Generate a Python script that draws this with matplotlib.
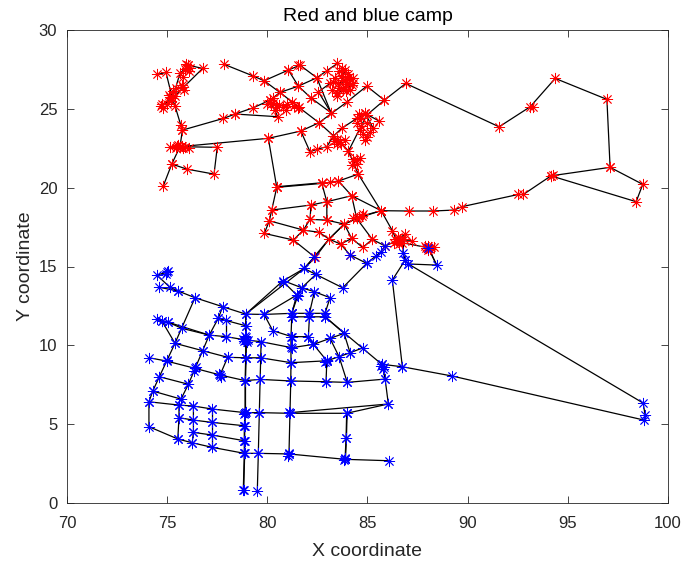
import matplotlib
matplotlib.use('Agg')
import matplotlib.pyplot as plt

plt.rcParams['font.family'] = ['Liberation Sans', 'DejaVu Sans']

# road sections of the red camp, (x, y)
red_north_west = [
    [(74.51, 27.18), (74.94, 27.31), (75.26, 25.66), (74.69, 25.17)],
    [(76.06, 27.77), (76.77, 27.56), (75.81, 26.36), (75.26, 25.66)],
    [(76.06, 27.77), (75.64, 27.25), (75.26, 25.66), (75.39, 25.19), (75.68, 23.97), (75.76, 23.65), (75.64, 22.6), (77.5, 22.56), (77.34, 20.86), (75.97, 21.18), (75.23, 21.5), (74.81, 20.12)],
    [(75.64, 22.6), (75.23, 21.5)],
    [(75.14, 22.56), (75.64, 22.6), (76.11, 22.53)],
    [(75.76, 23.65), (77.8, 24.39), (78.39, 24.67), (79.3, 25.07), (80.13, 25.55), (80.63, 26.04), (81.55, 26.44), (82.47, 26.97), (82.97, 27.42), (83.5, 27.88)],
    [(78.39, 24.67), (80.52, 24.5), (80.13, 25.55)],
    [(77.85, 27.82), (79.3, 27.08), (79.84, 26.78), (81.05, 27.46), (81.63, 27.77), (82.47, 26.97), (83.18, 24.75)],
    [(79.84, 26.78), (80.63, 26.04), (81.58, 25.09), (82.58, 24.12), (83.63, 22.91), (84.05, 22.32), (84.54, 20.86), (85.68, 18.52)],
    [(81.05, 27.46), (81.55, 26.44), (82.17, 25.7)],
    [(75.64, 22.6), (80.05, 23.13), (81.67, 23.59), (82.58, 24.12), (83.99, 25.45), (84.96, 26.44), (85.84, 25.55), (84.96, 24.6), (84.05, 22.32)],
    [(85.84, 25.55), (86.91, 26.61), (91.57, 23.86), (93.12, 25.13), (94.37, 26.93), (96.95, 25.6), (97.11, 21.29), (98.74, 20.21), (98.41, 19.11), (94.16, 20.75), (92.78, 19.57), (92.53, 19.57), (89.7, 18.79), (89.32, 18.58), (88.29, 18.52), (87.07, 18.52), (85.68, 18.54)],
    [(94.16, 20.75), (97.11, 21.29)],
    [(80.05, 23.13), (80.47, 20.02), (80.22, 18.58), (80.1, 17.9), (79.85, 17.1), (81.3, 16.68), (82.38, 15.58)],
    [(81.67, 23.59), (82.13, 22.28), (82.47, 22.43), (82.97, 22.6), (83.3, 23.27), (83.71, 23.76), (84.46, 24.39), (84.88, 24.71), (85.59, 24.22)],
    [(82.17, 25.7), (83.18, 24.75), (82.55, 26.08), (83.13, 26.61), (83.55, 26.61), (84.3, 26.93)],
    [(83.47, 25.98), (83.88, 27.46), (84.3, 26.61), (83.8, 26.19), (83.47, 25.98)],
    [(84.63, 23.65), (84.96, 23.23), (85.29, 23.76), (84.88, 24.71)],
    [(84.46, 21.75), (84.21, 21.43), (84.63, 21.9)],
]

red_south = [
    [(80.47, 20.02), (82.72, 20.27), (83.13, 20.34), (83.55, 20.42), (84.54, 20.86)],
    [(80.47, 20.06), (82.72, 20.31)],
    [(80.22, 18.58), (82.18, 18.9), (82.97, 19.11), (84.21, 19.49), (85.68, 18.54), (86.24, 17.27), (86.46, 16.63), (86.71, 16.51), (88.04, 16.19)],
    [(82.72, 20.27), (82.97, 19.11), (82.97, 17.94), (83.84, 17.69), (84.46, 18.05), (84.71, 18.2), (85.68, 18.54)],
    [(84.21, 19.49), (84.46, 18.05), (85.24, 16.72), (85.88, 16.3), (86.46, 16.63)],
    [(83.55, 20.42), (84.21, 19.49)],
    [(80.1, 17.9), (81.8, 17.31), (81.3, 16.68)],
    [(81.8, 17.31), (82.13, 17.99), (82.97, 17.94)],
    [(82.18, 18.9), (82.13, 17.99)],
    [(81.8, 17.31), (82.58, 17.17), (83.08, 16.74), (83.66, 16.42), (84.13, 15.73)],
    [(83.84, 17.69), (84.21, 16.78), (84.76, 16.21), (85.24, 16.72)],
    [(83.66, 16.42), (84.21, 16.78)],
    [(86.87, 17.06), (86.46, 16.63), (87.21, 16.63)],
    [(88.04, 16.19), (88.3, 16.25), (87.85, 16.3)],
]

# links that run from the red camp into the blue one
cross_links = [
    [(85.68, 18.54), (84.46, 18.05), (83.84, 17.69), (83.08, 16.74), (82.38, 15.56), (81.85, 14.88), (80.77, 14.08), (78.92, 11.98)],
    [(83.84, 17.69), (83.08, 16.74), (81.85, 14.88), (78.92, 11.98)],
    [(88.04, 16.19), (88.45, 15.09)],
    [(86.76, 15.87), (86.87, 17.06)],
]

# road sections of the blue camp, (x, y)
blue_west = [
    [(74.98, 14.63), (74.48, 14.46), (75.14, 13.68), (75.56, 13.44)],
    [(74.61, 13.68), (75.56, 13.44), (76.39, 13.02), (77.77, 12.45), (78.92, 11.98), (79.84, 11.96), (81.22, 12.03), (82.1, 12.03), (82.88, 12.03)],
    [(76.39, 13.02), (75.39, 10.13), (74.61, 8.01), (74.28, 7.1), (74.09, 6.42), (74.09, 4.84), (75.53, 4.06), (76.25, 3.82), (77.25, 3.53), (78.85, 3.15), (79.55, 3.15), (81.1, 3.11)],
    [(77.77, 12.45), (77.55, 11.71), (77.1, 10.65), (76.77, 9.66), (76.06, 7.53), (75.69, 6.59)],
    [(74.48, 11.65), (74.73, 11.56), (75.06, 11.46), (75.73, 11.08), (77.1, 10.65), (77.94, 10.55), (78.92, 10.34), (79.69, 10.23), (81.22, 9.85), (82.3, 10.06)],
    [(75.06, 11.46), (77.1, 10.65)],
    [(74.73, 11.56), (75.39, 10.13), (76.77, 9.66), (78.02, 9.24), (78.92, 9.21), (79.67, 9.21), (81.18, 8.9), (82.97, 9.02)],
    [(74.11, 9.21), (74.98, 9.0), (76.39, 8.54), (77.64, 8.12), (78.89, 7.76), (79.64, 7.84), (81.17, 7.74), (82.93, 7.69), (83.99, 7.65), (85.88, 7.86)],
    [(77.64, 8.12), (78.02, 9.24)],
    [(74.61, 8.01), (76.06, 7.53)],
    [(74.28, 7.1), (75.69, 6.59)],
    [(74.09, 6.42), (75.59, 6.21), (76.31, 6.15), (77.25, 5.96), (78.89, 5.73), (79.6, 5.73), (81.13, 5.69), (83.96, 5.69), (83.93, 4.14), (83.88, 2.77), (86.09, 2.68)],
    [(83.98, 5.69), (83.95, 4.14), (83.9, 2.77)],
    [(75.59, 5.41), (76.31, 5.26), (77.25, 5.11), (78.85, 4.9)],
    [(76.31, 4.48), (77.25, 4.31), (78.85, 3.95)],
    [(75.59, 6.21), (75.59, 5.41), (75.53, 4.06)],
    [(76.31, 6.15), (76.31, 5.26), (76.31, 4.48), (76.25, 3.82)],
    [(77.25, 5.96), (77.25, 5.11), (77.25, 4.31), (77.25, 3.53)],
    [(78.92, 11.98), (78.92, 11.24), (78.92, 10.34), (78.92, 9.21), (78.89, 7.76), (78.89, 5.73), (78.85, 4.9), (78.85, 3.95), (78.85, 3.15), (78.8, 0.82)],
    [(78.96, 10.34), (78.94, 9.21), (78.91, 7.76), (78.91, 5.73), (78.87, 4.9), (78.87, 3.95), (78.87, 3.15), (78.82, 0.82)],
    [(79.69, 10.23), (79.67, 9.21), (79.64, 7.84), (79.6, 5.73), (79.55, 3.15), (79.5, 0.78)],
    [(77.55, 11.71), (78.92, 11.24)],
    [(77.94, 11.6), (77.94, 10.55)],
    [(79.84, 11.96), (80.27, 10.93), (81.22, 10.55), (82.05, 10.55), (82.3, 10.06)],
    [(79.84, 11.96), (81.47, 13.19), (81.22, 12.03)],
    [(80.8, 14.03), (81.47, 13.19)],
]

blue_east = [
    [(81.22, 12.03), (81.22, 11.81), (81.18, 10.55), (81.18, 9.87), (81.18, 8.9), (81.17, 7.74), (81.13, 5.73), (81.08, 3.11), (83.88, 2.77)],
    [(82.35, 15.58), (81.83, 14.88)],
    [(84.13, 15.73), (84.96, 15.2), (83.76, 13.65), (82.42, 14.5), (81.83, 14.88)],
    [(84.96, 15.2), (85.43, 15.68), (85.66, 15.94), (85.88, 16.3)],
    [(82.42, 14.5), (81.72, 13.65), (81.52, 13.15), (81.22, 12.03)],
    [(80.8, 14.1), (81.72, 13.65), (82.35, 13.4), (83.13, 13.02), (82.88, 12.03), (82.88, 11.81)],
    [(82.35, 13.4), (82.1, 12.03), (82.1, 11.81), (82.05, 10.55)],
    [(81.22, 11.81), (82.1, 11.81), (82.88, 11.81), (83.83, 10.76), (84.13, 9.53)],
    [(82.88, 11.81), (85.71, 8.8), (86.74, 8.64), (89.24, 8.05), (98.8, 5.26), (98.86, 5.56), (98.76, 6.34), (87.04, 15.16), (88.45, 15.09), (88.04, 16.19)],
    [(86.74, 8.64), (86.24, 14.14), (86.88, 15.41), (86.79, 15.83)],
    [(86.88, 15.41), (87.04, 15.16)],
    [(82.3, 10.06), (83.13, 10.44), (83.83, 10.76)],
    [(83.13, 10.44), (83.58, 9.28), (83.99, 7.65)],
    [(82.3, 10.06), (82.97, 9.02), (82.93, 7.69)],
    [(82.97, 9.02), (83.58, 9.28), (84.13, 9.53), (84.79, 9.85)],
    [(85.71, 8.8), (85.78, 8.5), (85.88, 7.86), (86.04, 6.28), (81.13, 5.73)],
    [(86.04, 6.28), (83.96, 5.69)],
]

# nodes inside the dense clusters that were not visible on a section
red_extra = [(75.1, 25.9), (75.45, 26.3), (75.3, 26.1), (75.9, 27.5), (76.1, 27.4), (75.8, 27.0), (75.0, 25.3), (75.5, 22.65), (75.8, 22.5),
             (75.2, 25.5), (75.4, 25.8), (75.15, 25.75), (74.75, 25.3), (74.8, 25.05), (76.0, 27.6), (75.95, 27.85), (76.15, 27.6), (75.85, 26.2), (75.75, 26.5),
             (75.45, 22.5), (75.55, 22.7), (75.75, 22.65), (75.9, 22.55),
             (80.3, 25.7), (80.47, 25.13), (80.8, 25.13), (81.22, 25.45), (81.55, 25.03), (80.0, 25.3), (80.2, 25.3), (81.55, 27.77),
             (80.3, 25.4), (80.4, 24.95), (80.6, 25.25), (80.95, 24.95), (81.0, 25.3), (81.35, 25.15),
             (83.78, 26.82), (83.9, 26.4), (84.0, 26.9), (83.7, 27.1), (84.1, 27.0), (83.6, 26.3), (83.95, 26.1), (83.25, 26.2), (84.15, 26.2),
             (83.6, 27.4), (83.75, 27.6), (83.4, 26.95), (84.05, 27.2), (83.3, 26.7), (83.5, 25.8), (83.95, 26.6), (84.25, 26.5),
             (84.46, 24.1), (84.7, 23.9), (85.0, 24.1), (84.8, 23.4), (85.1, 23.5), (84.7, 24.4), (84.9, 23.0), (84.6, 24.7),
             (83.35, 22.95), (83.7, 22.75), (83.9, 23.0), (83.5, 23.1), (84.3, 21.8), (84.5, 21.5), (83.5, 22.8),
             (84.3, 18.1), (84.6, 18.15), (84.8, 18.3), (86.6, 16.7), (86.5, 16.9), (86.3, 16.5), (88.1, 16.1), (88.0, 16.3), (87.9, 16.2),
             (86.55, 16.4), (86.8, 16.75), (86.35, 16.75), (88.15, 16.25), (88.0, 16.05),
             (93.25, 25.13), (94.25, 20.8)]
blue_extra = [(78.95, 10.5), (78.85, 10.25), (79.05, 10.35), (78.8, 10.4), (75.05, 14.7), (74.95, 14.55), (75.0, 9.1), (76.42, 8.65), (76.35, 8.4),
              (77.6, 8.2), (77.7, 8.0), (83.0, 9.1), (82.9, 8.95), (85.65, 8.7), (85.8, 8.6), (81.1, 3.2), (81.05, 3.0), (83.9, 2.85), (83.85, 2.7),
              (81.1, 5.8), (78.92, 5.8), (78.85, 5.65), (78.9, 10.6), (79.0, 10.2)]

x_ticks = [70, 75, 80, 85, 90, 95, 100]
y_ticks = [0, 5, 10, 15, 20, 25, 30]

fig = plt.figure(figsize=(6.83, 5.63), dpi=100)
ax = fig.add_axes([67/683, 60/563, 601/683, 473/563])

star = (8, 2, 0)


def draw_camp(paths, extra, color):
    for path in paths:
        xs = [p[0] for p in path]
        ys = [p[1] for p in path]
        ax.plot(xs, ys, color='k', lw=0.9, zorder=2)
        ax.plot(xs, ys, ls='none', marker=star, ms=8, mec=color, mew=0.6, zorder=3)
    ax.plot([p[0] for p in extra], [p[1] for p in extra], ls='none',
            marker=star, ms=8, mec=color, mew=0.6, zorder=3)


for path in cross_links:
    ax.plot([p[0] for p in path], [p[1] for p in path], color='k', lw=0.9, zorder=2)

draw_camp(red_north_west + red_south, red_extra, 'r')
draw_camp(blue_west + blue_east, blue_extra, 'b')

ax.set_xlim(70, 100)
ax.set_ylim(0, 30)
ax.set_xticks(x_ticks)
ax.set_yticks(y_ticks)
ax.tick_params(direction='in', top=True, right=True, length=5, width=0.6,
               labelsize=12, colors='#262626')
ax.tick_params(axis='x', pad=9)
ax.tick_params(axis='y', pad=7)
for spine in ax.spines.values():
    spine.set_linewidth(0.6)
    spine.set_color('#262626')

ax.set_title('Red and blue camp', fontsize=14, color='k', pad=6.5)
ax.set_xlabel('X coordinate', fontsize=14, color='#262626', labelpad=9)
ax.set_ylabel('Y coordinate', fontsize=14, color='#262626', labelpad=3)

fig.savefig('out.png', dpi=100)
